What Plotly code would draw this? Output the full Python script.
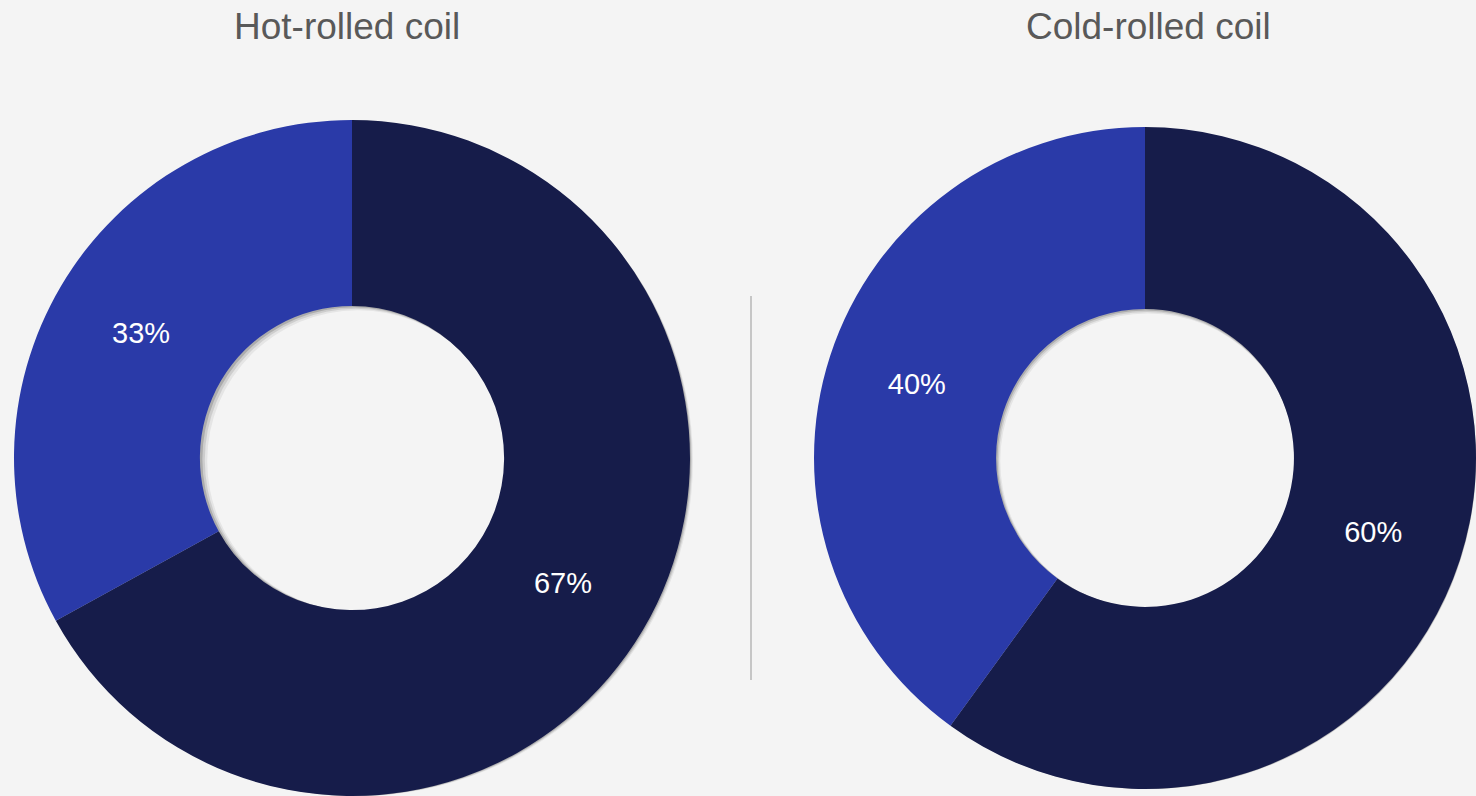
import plotly.graph_objects as go

W, H = 1476, 796

titles = ["Hot-rolled coil", "Cold-rolled coil"]
segments = ["Dark", "Blue"]
hot_values = [67, 33]
cold_values = [60, 40]
colors = ["#161c4a", "#2a3aa8"]

BG = "#f4f4f4"
FONT = "Liberation Sans, Arial, sans-serif"

fig = go.Figure()

# domains in pixels (x0, x1, y0_from_bottom, y1_from_bottom)
doms = [
    (14, 690, 0, 676),
    (814, 1476, 0, 676),
]
vals = [hot_values, cold_values]

for (x0, x1, y0, y1), v in zip(doms, vals):
    # soft shadow layers
    for off, op in [(6, 0.06), (4, 0.10), (2, 0.16)]:
        fig.add_trace(go.Pie(
            values=[1], labels=["shadow"], hole=0.45, sort=False,
            marker=dict(colors=[f"rgba(0,0,0,{op})"], line=dict(width=0)),
            textinfo="none", hoverinfo="skip", showlegend=False,
            domain=dict(x=[(x0 + off) / W, min(x1 + off, W) / W],
                        y=[max(y0 - off, 0) / H, (y1 - off) / H]),
        ))
    fig.add_trace(go.Pie(
        values=v, labels=segments, hole=0.45, sort=False,
        direction="clockwise", rotation=0,
        marker=dict(colors=colors, line=dict(width=0)),
        textposition="inside",
        insidetextorientation="horizontal",
        texttemplate="%{value}%",
        textfont=dict(family=FONT, size=29, color="#ffffff"),
        showlegend=False,
        domain=dict(x=[x0 / W, x1 / W], y=[y0 / H, y1 / H]),
    ))

title_x = [347, 1148]
for t, xp in zip(titles, title_x):
    fig.add_annotation(
        text=t, x=xp / W, y=1 - 27 / H, xref="paper", yref="paper",
        showarrow=False, xanchor="center", yanchor="middle",
        font=dict(family=FONT, size=37, color="#595959"),
    )

fig.add_shape(type="line", xref="paper", yref="paper",
              x0=751 / W, x1=751 / W, y0=1 - 296 / H, y1=1 - 680 / H,
              line=dict(color="#c6c6c6", width=2))

fig.update_layout(
    width=W, height=H,
    margin=dict(l=0, r=0, t=0, b=0),
    paper_bgcolor=BG, plot_bgcolor=BG,
    showlegend=False,
)

fig.write_html("out.html", config={"displayModeBar": False},
               post_script="document.body.style.margin='0';document.body.style.background='%s';" % BG)
